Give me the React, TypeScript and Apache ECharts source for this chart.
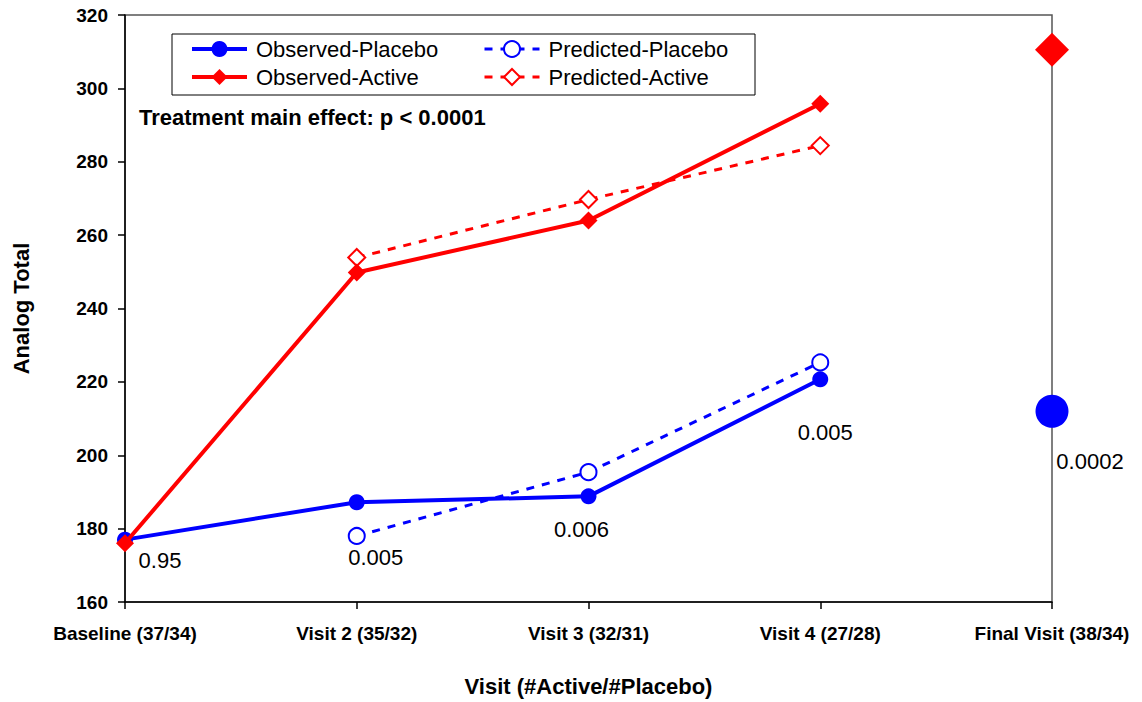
import React, { useEffect, useRef } from "react";
import * as echarts from "echarts";

const categories = [
  "Baseline (37/34)",
  "Visit 2 (35/32)",
  "Visit 3 (32/31)",
  "Visit 4 (27/28)",
  "Final Visit (38/34)",
];
const observedPlacebo = [177, 187.2, 188.8, 220.7, "-"];
const observedActive = [176, 249.8, 264, 295.8, "-"];
const predictedPlacebo = ["-", 178, 195.4, 225.3, "-"];
const predictedActive = ["-", 253.9, 269.7, 284.4, "-"];
const finalPlacebo = ["-", "-", "-", "-", 212];
const finalActive = ["-", "-", "-", "-", 310.5];
const pValues = ["0.95", "0.005", "0.006", "0.005", "0.0002"];
const yTicks = { min: 160, max: 320, interval: 20 };

const labelOffsets: number[][] = [
  [35, 21],
  [19, 55],
  [-7, 33],
  [5, 53],
  [38, 50],
];

const FONT = "'Liberation Sans', Arial, sans-serif";
const BLUE = "#0000FF";
const RED = "#FF0000";

export default function App() {
  const ref = useRef<HTMLDivElement>(null);
  useEffect(() => {
    if (!ref.current) return;
    const chart = echarts.init(ref.current, undefined, { renderer: "svg" });
    const pLabel = (i: number) => ({
      show: true,
      position: "inside",
      formatter: pValues[i],
      offset: labelOffsets[i],
      color: "#000",
      opacity: 1,
      fontSize: 22,
      fontFamily: FONT,
    });
    const opData = observedPlacebo.map((v, i) =>
      v === "-" ? "-" : { value: v, label: pLabel(i) }
    );
    const fpData = finalPlacebo.map((v, i) =>
      v === "-" ? "-" : { value: v, label: pLabel(i) }
    );
    chart.setOption({
      animation: false,
      backgroundColor: "#fff",
      textStyle: { fontFamily: FONT },
      title: {
        text: "Treatment main effect: p < 0.0001",
        left: 139,
        top: 106,
        padding: 0,
        textStyle: { fontSize: 22, fontWeight: "bold", color: "#000", fontFamily: FONT },
      },
      graphic: [
        {
          type: "rect",
          shape: { x: 172, y: 34, width: 583, height: 61 },
          style: { fill: "#fff", stroke: "#000", lineWidth: 1 },
          z: 0,
          silent: true,
        },
      ],
      legend: [
        {
          data: ["Observed-Placebo", "Observed-Active"],
          orient: "vertical",
          left: 190,
          top: 38,
          padding: 0,
          itemWidth: 55,
          itemHeight: 20,
          itemGap: 6,
          lineStyle: { width: 4 },
          textStyle: { fontSize: 22, color: "#000", fontFamily: FONT, padding: [0, 0, 0, 4] },
          z: 5,
        },
        {
          data: ["Predicted-Placebo", "Predicted-Active"],
          orient: "vertical",
          left: 483,
          top: 38,
          padding: 0,
          itemWidth: 55,
          itemHeight: 20,
          itemGap: 6,
          lineStyle: { width: 3 },
          textStyle: { fontSize: 22, color: "#000", fontFamily: FONT, padding: [0, 0, 0, 4] },
          z: 5,
        },
      ],
      grid: {
        left: 125,
        right: 90,
        top: 15,
        bottom: 99,
        show: true,
        borderColor: "#555",
        borderWidth: 1.5,
        backgroundColor: "transparent",
      },
      xAxis: {
        type: "category",
        data: categories,
        boundaryGap: false,
        name: "Visit (#Active/#Placebo)",
        nameLocation: "middle",
        nameGap: 73,
        nameTextStyle: { fontSize: 22, fontWeight: "bold", color: "#000", fontFamily: FONT },
        axisLine: { lineStyle: { color: "#000", width: 1.5 } },
        axisTick: { show: true, length: 7, lineStyle: { color: "#000", width: 1.5 } },
        axisLabel: { fontSize: 19, fontWeight: "bold", color: "#000", margin: 22, fontFamily: FONT },
        splitLine: { show: false },
      },
      yAxis: {
        type: "value",
        min: yTicks.min,
        max: yTicks.max,
        interval: yTicks.interval,
        name: "Analog Total",
        nameLocation: "middle",
        nameGap: 93,
        nameTextStyle: { fontSize: 22, fontWeight: "bold", color: "#000", fontFamily: FONT },
        axisLine: { show: true, lineStyle: { color: "#000", width: 1.5 } },
        axisTick: { show: true, length: 7, lineStyle: { color: "#000", width: 1.5 } },
        axisLabel: { fontSize: 19, fontWeight: "bold", color: "#000", margin: 17, fontFamily: FONT },
        splitLine: { show: false },
      },
      series: [
        {
          name: "Observed-Placebo",
          type: "line",
          data: opData,
          symbol: "circle",
          symbolSize: 16,
          lineStyle: { color: BLUE, width: 4 },
          itemStyle: { color: BLUE },
          z: 3,
        },
        {
          name: "Predicted-Placebo",
          type: "line",
          data: predictedPlacebo,
          symbol: "emptyCircle",
          symbolSize: 16,
          lineStyle: { color: BLUE, width: 3, type: [8, 8] },
          itemStyle: { color: BLUE, borderWidth: 1.5, borderColor: BLUE },
          z: 2,
        },
        {
          name: "Observed-Active",
          type: "line",
          data: observedActive,
          symbol: "diamond",
          symbolSize: 18,
          lineStyle: { color: RED, width: 4 },
          itemStyle: { color: RED },
          z: 4,
        },
        {
          name: "Predicted-Active",
          type: "line",
          data: predictedActive,
          symbol: "emptyDiamond",
          symbolSize: 17,
          lineStyle: { color: RED, width: 3, type: [8, 8] },
          itemStyle: { color: RED, borderWidth: 1.5, borderColor: RED },
          z: 2,
        },
        {
          name: "Final-Placebo",
          type: "scatter",
          data: fpData,
          symbol: "circle",
          symbolSize: 33,
          itemStyle: { color: BLUE, opacity: 1 },
          z: 3,
        },
        {
          name: "Final-Active",
          type: "scatter",
          data: finalActive,
          symbol: "diamond",
          symbolSize: 34,
          itemStyle: { color: RED, opacity: 1 },
          z: 3,
        },
      ],
    });
    return () => chart.dispose();
  }, []);
  return (
    <div
      ref={ref}
      style={{ position: "fixed", left: 0, top: 0, width: 1142, height: 702 }}
    />
  );
}
